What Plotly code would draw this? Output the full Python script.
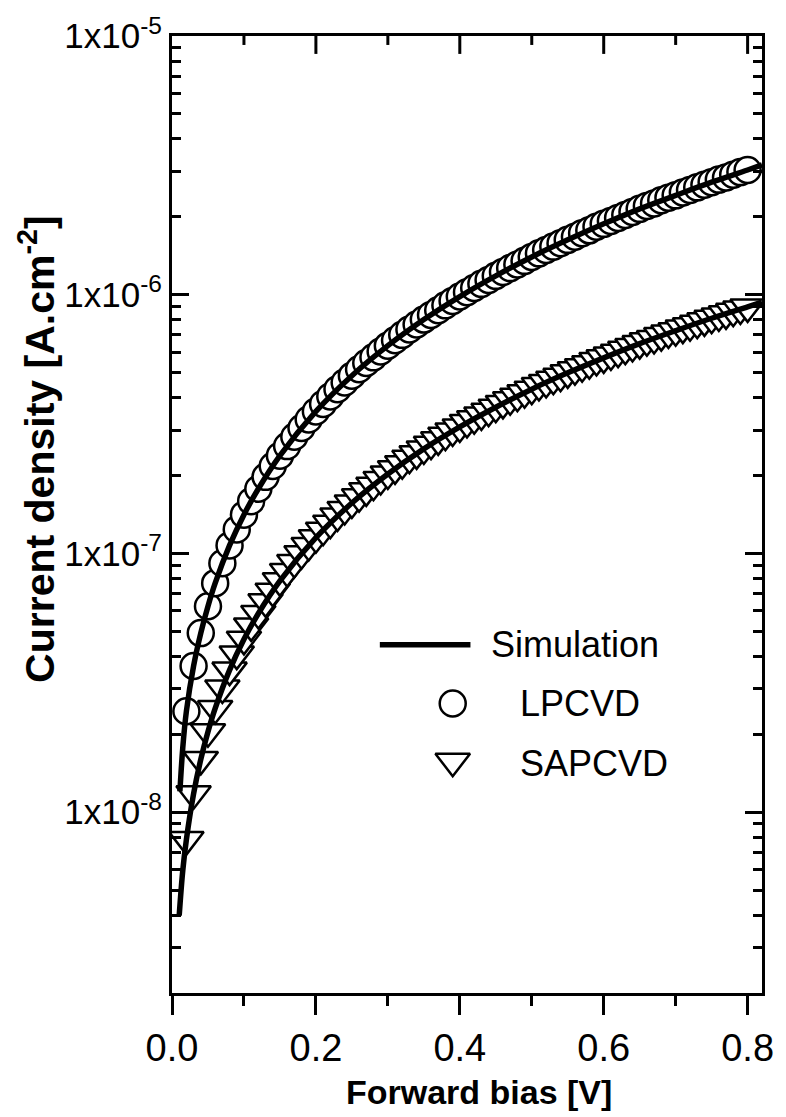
import plotly.graph_objects as go

# Forward bias of the measured points [V]
bias_v = [0.02, 0.03, 0.04, 0.05, 0.06, 0.07, 0.08, 0.09, 0.10,
          0.11, 0.12, 0.13, 0.14, 0.15, 0.16, 0.17, 0.18, 0.19, 0.20,
          0.21, 0.22, 0.23, 0.24, 0.25, 0.26, 0.27, 0.28, 0.29, 0.30,
          0.31, 0.32, 0.33, 0.34, 0.35, 0.36, 0.37, 0.38, 0.39, 0.40,
          0.41, 0.42, 0.43, 0.44, 0.45, 0.46, 0.47, 0.48, 0.49, 0.50,
          0.51, 0.52, 0.53, 0.54, 0.55, 0.56, 0.57, 0.58, 0.59, 0.60,
          0.61, 0.62, 0.63, 0.64, 0.65, 0.66, 0.67, 0.68, 0.69, 0.70,
          0.71, 0.72, 0.73, 0.74, 0.75, 0.76, 0.77, 0.78, 0.79, 0.80]

# Measured current density, stored as log10(J / A.cm^-2)
lpcvd_log10_j = [-7.610, -7.435, -7.308, -7.204, -7.115, -7.038, -6.969, -6.907, -6.850,
                 -6.798, -6.750, -6.704, -6.662, -6.622, -6.585, -6.549, -6.515, -6.482, -6.451,
                 -6.422, -6.393, -6.365, -6.339, -6.313, -6.288, -6.264, -6.242, -6.219, -6.197,
                 -6.176, -6.155, -6.134, -6.115, -6.096, -6.078, -6.060, -6.041, -6.024, -6.007,
                 -5.990, -5.974, -5.958, -5.943, -5.927, -5.912, -5.897, -5.883, -5.869, -5.854,
                 -5.840, -5.827, -5.814, -5.801, -5.788, -5.776, -5.762, -5.751, -5.737, -5.726,
                 -5.715, -5.703, -5.692, -5.680, -5.668, -5.657, -5.647, -5.635, -5.625, -5.616,
                 -5.605, -5.595, -5.585, -5.575, -5.565, -5.555, -5.547, -5.536, -5.526, -5.518]

sapcvd_log10_j = [-8.106, -7.929, -7.796, -7.689, -7.599, -7.520, -7.451, -7.389, -7.332,
                  -7.280, -7.232, -7.187, -7.146, -7.106, -7.070, -7.035, -7.001, -6.969, -6.939,
                  -6.910, -6.883, -6.855, -6.830, -6.805, -6.781, -6.758, -6.736, -6.714, -6.693,
                  -6.673, -6.653, -6.632, -6.615, -6.596, -6.578, -6.561, -6.543, -6.527, -6.511,
                  -6.494, -6.479, -6.465, -6.450, -6.435, -6.420, -6.406, -6.392, -6.379, -6.365,
                  -6.351, -6.339, -6.327, -6.315, -6.302, -6.290, -6.278, -6.267, -6.254, -6.244,
                  -6.233, -6.222, -6.211, -6.200, -6.189, -6.178, -6.169, -6.158, -6.148, -6.139,
                  -6.129, -6.120, -6.110, -6.101, -6.091, -6.082, -6.074, -6.064, -6.055, -6.047]

# Simulated curves
sim_lpcvd_v = [0.011, 0.015, 0.02, 0.03, 0.04, 0.05, 0.06, 0.08, 0.10, 0.12, 0.15, 0.20,
               0.25, 0.30, 0.35, 0.40, 0.45, 0.50, 0.55, 0.60, 0.65, 0.70, 0.75, 0.80, 0.82]
sim_lpcvd_log10_j = [-7.92, -7.75, -7.61, -7.435, -7.308, -7.204, -7.115, -6.969, -6.850,
                     -6.750, -6.622, -6.451, -6.313, -6.197, -6.096, -6.007, -5.927, -5.854,
                     -5.788, -5.726, -5.668, -5.616, -5.565, -5.518, -5.498]

sim_sapcvd_v = [0.010, 0.015, 0.02, 0.03, 0.04, 0.05, 0.06, 0.08, 0.10, 0.12, 0.15, 0.20,
                0.25, 0.30, 0.35, 0.40, 0.45, 0.50, 0.55, 0.60, 0.65, 0.70, 0.75, 0.80, 0.82]
sim_sapcvd_log10_j = [-8.40, -8.225, -8.106, -7.929, -7.796, -7.689, -7.599, -7.451, -7.332,
                      -7.232, -7.106, -6.939, -6.805, -6.693, -6.596, -6.511, -6.435, -6.365,
                      -6.302, -6.244, -6.189, -6.139, -6.091, -6.047, -6.029]

x_ticks = [0.0, 0.2, 0.4, 0.6, 0.8]
x_minor_ticks = [0.1, 0.3, 0.5, 0.7]
x_tick_text = ["0.0", "0.2", "0.4", "0.6", "0.8"]
y_ticks = [1e-8, 1e-7, 1e-6, 1e-5]
y_tick_text = ["1x10<sup>-8</sup>", "1x10<sup>-7</sup>", "1x10<sup>-6</sup>", "1x10<sup>-5</sup>"]

series_names = ["Simulation", "LPCVD", "SAPCVD"]


def to_j(logs):
    return [10 ** v for v in logs]


FONT = "Liberation Sans, Arial, sans-serif"
W, H = 786, 1117
ML, MR, MT, MB = 172, 15, 31, 124
PW, PH = W - ML - MR, H - MT - MB
X_RANGE = [0, 0.82]
Y_RANGE = [-8.699, -5]


def px(x):
    return (x - ML) / PW


def py(y):
    return (H - MB - y) / PH


fig = go.Figure()

marker_line = dict(color="black", width=2.5)
fig.add_trace(go.Scatter(
    x=bias_v, y=to_j(lpcvd_log10_j), mode="markers", name=series_names[1],
    marker=dict(symbol="circle", size=26, color="white", line=marker_line),
    showlegend=False))
fig.add_trace(go.Scatter(
    x=bias_v, y=to_j(sapcvd_log10_j), mode="markers", name=series_names[2],
    marker=dict(symbol="triangle-down", size=30, color="white", line=marker_line),
    showlegend=False))
fig.add_trace(go.Scatter(
    x=sim_lpcvd_v, y=to_j(sim_lpcvd_log10_j), mode="lines", name=series_names[0],
    line=dict(color="black", width=5.5, shape="spline"), showlegend=False))
fig.add_trace(go.Scatter(
    x=sim_sapcvd_v, y=to_j(sim_sapcvd_log10_j), mode="lines", name=series_names[0],
    line=dict(color="black", width=5.5, shape="spline"), showlegend=False))

# key drawn in a hidden unit-square overlay
fig.add_trace(go.Scatter(
    x=[px(383), px(475)], y=[py(643), py(643)], xaxis="x3", yaxis="y3",
    mode="lines", line=dict(color="black", width=5.5), showlegend=False,
    cliponaxis=False, hoverinfo="skip"))
fig.add_trace(go.Scatter(
    x=[px(457)], y=[py(702)], xaxis="x3", yaxis="y3", mode="markers",
    marker=dict(symbol="circle", size=26, color="white", line=marker_line),
    showlegend=False, cliponaxis=False, hoverinfo="skip"))
fig.add_trace(go.Scatter(
    x=[px(457)], y=[py(760)], xaxis="x3", yaxis="y3", mode="markers",
    marker=dict(symbol="triangle-down", size=30, color="white", line=marker_line),
    showlegend=False, cliponaxis=False, hoverinfo="skip"))

key_font = dict(family=FONT, size=36, color="black")
for label, x0, y0 in [(series_names[0], 494, 643), (series_names[1], 523, 702),
                      (series_names[2], 523, 762)]:
    fig.add_annotation(x=px(x0), y=py(y0), xref="paper", yref="paper", text=label,
                       showarrow=False, xanchor="left", yanchor="middle", font=key_font)

fig.add_annotation(x=px(484), y=py(1093), xref="paper", yref="paper",
                   text="<b>Forward bias [V]</b>", showarrow=False,
                   xanchor="center", yanchor="middle",
                   font=dict(family=FONT, size=34, color="black"))
fig.add_annotation(x=px(35), y=py(447), xref="paper", yref="paper",
                   text="<b>Current density [A.cm<sup>-2</sup>]</b>", showarrow=False,
                   textangle=-90, xanchor="center", yanchor="middle",
                   font=dict(family=FONT, size=41, color="black"))

# inward tick marks along the top frame, at the bottom axis' tick values
for vals, length in ((x_ticks[1:], 18), (x_minor_ticks, 9)):
    for v in vals:
        fig.add_shape(type="line", xref="x", yref="paper", x0=v, x1=v,
                      y0=1, y1=1 - length / PH, line=dict(color="black", width=3),
                      layer="above")

minor_y = [m * 10.0 ** e for e in range(-9, -5) for m in range(2, 10) if m * 10.0 ** e >= 2e-9]

axis_common = dict(showline=True, linewidth=3, linecolor="black", showgrid=False,
                   zeroline=False, tickwidth=3, tickcolor="black")

fig.update_layout(
    width=W, height=H, autosize=False,
    margin=dict(l=ML, r=MR, t=MT, b=MB, pad=0),
    paper_bgcolor="white", plot_bgcolor="rgba(0,0,0,0)",
    font=dict(family=FONT, color="black"),
    xaxis=dict(range=X_RANGE, tickmode="array", tickvals=x_ticks, ticktext=x_tick_text,
               ticks="outside", ticklen=19, mirror=True, anchor="y", domain=[0, 1],
               tickfont=dict(family=FONT, size=38),
               minor=dict(tickmode="array", tickvals=x_minor_ticks, ticks="outside",
                          ticklen=10, tickwidth=3, tickcolor="black"),
               **axis_common),
    yaxis=dict(type="log", range=Y_RANGE, tickmode="array", tickvals=y_ticks,
               ticktext=y_tick_text, ticks="inside", ticklen=17, mirror="ticks",
               anchor="x", domain=[0, 1],
               tickfont=dict(family=FONT, size=35),
               minor=dict(tickmode="array", tickvals=minor_y, ticks="inside",
                          ticklen=9, tickwidth=3, tickcolor="black"),
               **axis_common),
    xaxis3=dict(domain=[0, 1], range=[0, 1], anchor="y3", visible=False, fixedrange=True),
    yaxis3=dict(domain=[0, 1], range=[0, 1], anchor="x3", visible=False, fixedrange=True),
    showlegend=False,
)

fig.write_html("out.html")
